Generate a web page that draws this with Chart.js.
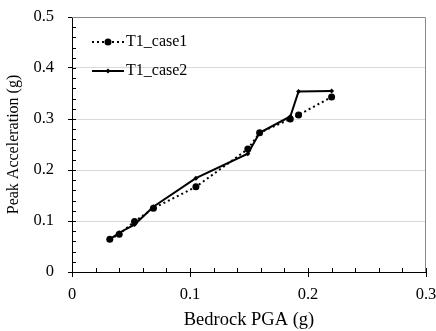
<!DOCTYPE html>
<html>
<head>
<meta charset="utf-8">
<script src="https://cdn.jsdelivr.net/npm/chart.js@4"></script>
<style>
  html, body { margin: 0; padding: 0; background: #fff; }
  #wrap { width: 436px; height: 331px; }
</style>
</head>
<body>
<div id="wrap"><canvas id="pgaChart" width="436" height="331"></canvas></div>
<script>
// values
const case1X = [0.032, 0.040, 0.053, 0.069, 0.105, 0.149, 0.159, 0.185, 0.192, 0.220];
const case1Y = [0.064, 0.074, 0.099, 0.125, 0.167, 0.241, 0.273, 0.300, 0.308, 0.343];
const case2X = [0.032, 0.040, 0.053, 0.069, 0.105, 0.149, 0.159, 0.185, 0.192, 0.220];
const case2Y = [0.064, 0.077, 0.093, 0.128, 0.184, 0.232, 0.273, 0.305, 0.354, 0.355];
const seriesNames = ['T1_case1', 'T1_case2'];
const xTitle = 'Bedrock PGA (g)';
const yTitle = 'Peak Acceleration (g)';

const serif = "'Liberation Serif', 'Times New Roman', serif";

const toPoints = (xs, ys) => xs.map((x, i) => ({ x: x, y: ys[i] }));

// minor ticks, inner half of major ticks and the top/right frame
const framePlugin = {
    id: 'frame',
    afterDatasetsDraw(chart) {
        const { ctx, chartArea: a, scales: { x, y } } = chart;
        ctx.save();
        ctx.strokeStyle = '#000';
        ctx.lineWidth = 1;
        ctx.beginPath();
        for (let v = 0; v <= 0.3001; v += 0.02) {
            const px = Math.round(x.getPixelForValue(v)) + 0.5;
            ctx.moveTo(px, a.bottom);
            ctx.lineTo(px, a.bottom - 4);
        }
        for (let v = 0; v <= 0.5001; v += 0.02) {
            const py = Math.round(y.getPixelForValue(v)) + 0.5;
            ctx.moveTo(a.left, py);
            ctx.lineTo(a.left + 4, py);
        }
        ctx.stroke();
        ctx.strokeStyle = '#888';
        ctx.beginPath();
        ctx.moveTo(a.left, a.top + 0.5);
        ctx.lineTo(a.right - 0.5, a.top + 0.5);
        ctx.lineTo(a.right - 0.5, a.bottom);
        ctx.stroke();
        ctx.restore();
    }
};

// legend drawn inside the plot, top left
const legendPlugin = {
    id: 'innerLegend',
    afterDraw(chart) {
        const { ctx } = chart;
        const rows = [
            { y: 42, dash: [2, 3], name: seriesNames[0], marker: 'circle' },
            { y: 71, dash: [], name: seriesNames[1], marker: 'diamond' }
        ];
        ctx.save();
        rows.forEach(r => {
            ctx.strokeStyle = '#000';
            ctx.lineWidth = 2;
            ctx.setLineDash(r.dash);
            ctx.beginPath();
            ctx.moveTo(92, r.y);
            ctx.lineTo(124, r.y);
            ctx.stroke();
            ctx.setLineDash([]);
            ctx.fillStyle = '#000';
            ctx.beginPath();
            if (r.marker === 'circle') {
                ctx.arc(108, r.y, 3.5, 0, Math.PI * 2);
            } else {
                ctx.moveTo(108, r.y - 2.5);
                ctx.lineTo(110.5, r.y);
                ctx.lineTo(108, r.y + 2.5);
                ctx.lineTo(105.5, r.y);
                ctx.closePath();
            }
            ctx.fill();
            ctx.font = '16px ' + serif;
            ctx.textBaseline = 'middle';
            ctx.textAlign = 'left';
            ctx.fillText(r.name, 126, r.y);
        });
        ctx.restore();
    }
};

new Chart(document.getElementById('pgaChart'), {
    type: 'scatter',
    data: {
        datasets: [
            {
                label: seriesNames[0],
                data: toPoints(case1X, case1Y),
                showLine: true,
                borderColor: '#000',
                backgroundColor: '#000',
                borderWidth: 2,
                borderDash: [2, 3],
                pointStyle: 'circle',
                pointRadius: 3.5,
                pointBorderWidth: 0
            },
            {
                label: seriesNames[1],
                data: toPoints(case2X, case2Y),
                showLine: true,
                borderColor: '#000',
                backgroundColor: '#000',
                borderWidth: 2,
                pointStyle: 'rectRot',
                pointRadius: 2.5,
                pointBorderWidth: 0
            }
        ]
    },
    options: {
        responsive: false,
        animation: false,
        layout: { padding: { top: 17, right: 10, left: 0, bottom: 0 } },
        plugins: {
            legend: { display: false },
            tooltip: { enabled: false }
        },
        scales: {
            x: {
                type: 'linear',
                min: 0,
                max: 0.3,
                ticks: { stepSize: 0.1, color: '#000', font: { family: serif, size: 16.5 }, padding: 8, maxRotation: 0 },
                grid: { drawOnChartArea: false, tickLength: 5, tickColor: '#000' },
                border: { color: '#000', width: 1 },
                title: { display: true, text: xTitle, color: '#000', font: { family: serif, size: 18.5 }, padding: { top: 0, bottom: 0 } },
                afterFit(scale) {
                    scale.height = 59;
                    scale.paddingLeft = 0;
                    scale.paddingRight = 0;
                }
            },
            y: {
                type: 'linear',
                min: 0,
                max: 0.5,
                ticks: { stepSize: 0.1, color: '#000', font: { family: serif, size: 16.5 }, padding: 14 },
                grid: { color: ctx => (ctx.tick && ctx.tick.value > 0 && ctx.tick.value < 0.5) ? '#d9d9d9' : 'rgba(0,0,0,0)', tickLength: 4, tickColor: '#000' },
                border: { color: '#000', width: 1 },
                title: { display: true, text: yTitle, color: '#000', font: { family: serif, size: 16 }, padding: { top: 4, bottom: 0 } },
                afterFit(scale) {
                    scale.width = 72;
                    scale.paddingTop = 0;
                    scale.paddingBottom = 0;
                }
            }
        }
    },
    plugins: [framePlugin, legendPlugin]
});
</script>
</body>
</html>
